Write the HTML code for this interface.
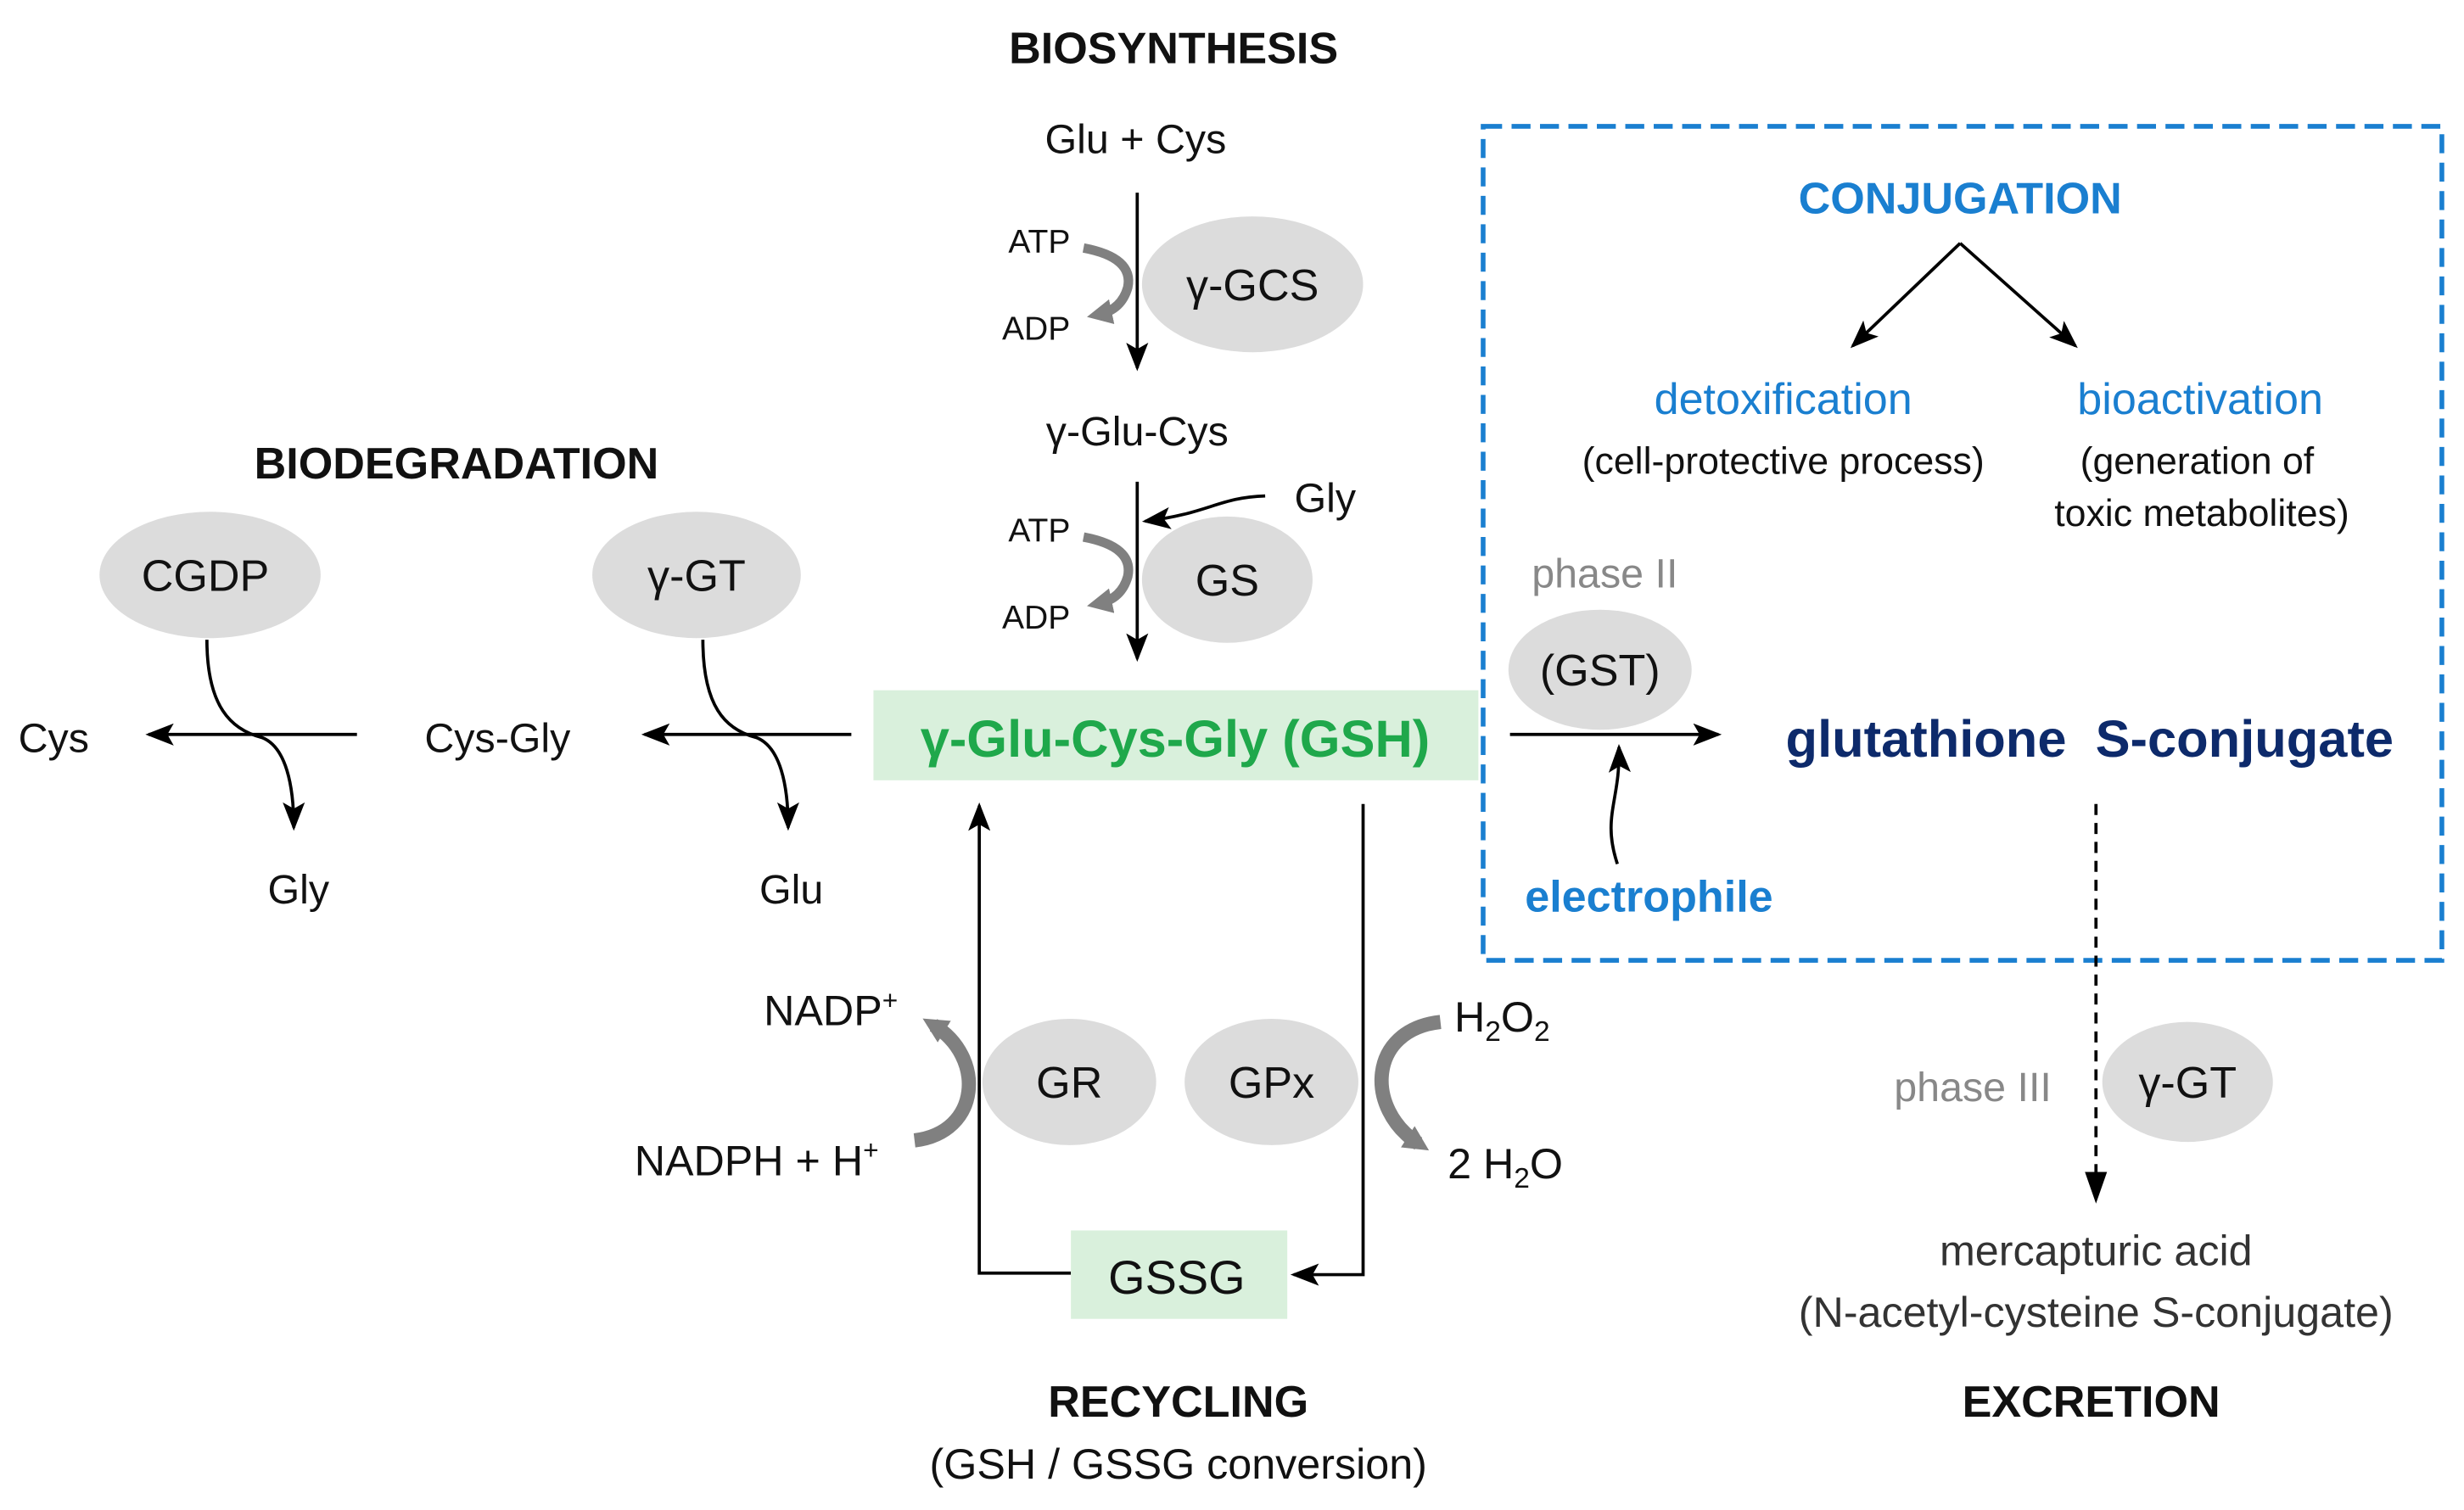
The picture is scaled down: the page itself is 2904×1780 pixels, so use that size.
<!DOCTYPE html>
<html><head><meta charset="utf-8"><style>
html,body{margin:0;padding:0;background:#fff;width:2904px;height:1780px;overflow:hidden}
svg{display:block}
text{font-family:"Liberation Sans",Arial,sans-serif}
</style></head><body>
<svg width="2904" height="1780" viewBox="0 0 1560 956" preserveAspectRatio="none" xmlns="http://www.w3.org/2000/svg">
<defs>
<marker id="ahb" markerWidth="18" markerHeight="14" refX="16" refY="7" orient="auto" markerUnits="userSpaceOnUse" viewBox="0 0 18 14">
<path d="M0,0 L18,7 L0,14 L4,7 Z" fill="#000"/></marker>
<marker id="ag" markerWidth="16" markerHeight="16" refX="8" refY="8" orient="auto" markerUnits="userSpaceOnUse" viewBox="0 0 16 16">
<path d="M0,0 L16,8 L0,16 Z" fill="#808080"/></marker>
</defs>
<g font-size="26" fill="#111" text-anchor="middle" transform="translate(-4,-3)">
<text x="747" y="43" font-weight="bold" font-size="28">BIOSYNTHESIS</text>
<text x="723" y="100">Glu + Cys</text>
<line x1="724" y1="125" x2="724" y2="236" stroke="#000" stroke-width="2" marker-end="url(#ahb)"/>
<text x="662" y="163" font-size="21">ATP</text>
<text x="660" y="218" font-size="21">ADP</text>
<path d="M690,160 Q722,166 718,185 Q714,199 700,202" fill="none" stroke="#808080" stroke-width="6" marker-end="url(#ag)"/>
<ellipse cx="797" cy="183" rx="70" ry="43" fill="#dcdcdc"/>
<text x="797" y="193" font-size="28">γ-GCS</text>
<text x="724" y="285">γ-Glu-Cys</text>
<line x1="724" y1="308" x2="724" y2="420" stroke="#000" stroke-width="2" marker-end="url(#ahb)"/>
<text x="843" y="327">Gly</text>
<path d="M805,317 C775,318 770,328 729,333" fill="none" stroke="#000" stroke-width="2" marker-end="url(#ahb)"/>
<text x="662" y="346" font-size="21">ATP</text>
<text x="660" y="401" font-size="21">ADP</text>
<path d="M690,343 Q722,349 718,368 Q714,382 700,385" fill="none" stroke="#808080" stroke-width="6" marker-end="url(#ag)"/>
<ellipse cx="781" cy="370" rx="54" ry="40" fill="#dcdcdc"/>
<text x="781" y="380" font-size="28">GS</text>
<rect x="557" y="440" width="383" height="57" fill="#d9f0dc"/>
<text x="748" y="482" font-weight="bold" font-size="33" fill="#1fa84b">γ-Glu-Cys-Gly (GSH)</text>
<text x="293" y="306" font-weight="bold" font-size="28">BIODEGRADATION</text>
<ellipse cx="137" cy="367" rx="70" ry="40" fill="#dcdcdc"/>
<text x="134" y="377" font-size="28">CGDP</text>
<ellipse cx="445" cy="367" rx="66" ry="40" fill="#dcdcdc"/>
<text x="445" y="377" font-size="28">γ-GT</text>
<line x1="543" y1="468" x2="412" y2="468" stroke="#000" stroke-width="2" marker-end="url(#ahb)"/>
<line x1="230" y1="468" x2="98" y2="468" stroke="#000" stroke-width="2" marker-end="url(#ahb)"/>
<text x="319" y="479">Cys-Gly</text>
<text x="38" y="479">Cys</text>
<path d="M135,408 C135,450 150,465 170,470 C185,476 190,500 190,527" fill="none" stroke="#000" stroke-width="2" marker-end="url(#ahb)"/>
<path d="M449,408 C449,450 463,465 483,470 C498,476 503,500 503,527" fill="none" stroke="#000" stroke-width="2" marker-end="url(#ahb)"/>
<text x="193" y="575">Gly</text>
<text x="505" y="575">Glu</text>
<rect x="943" y="83" width="607" height="528" fill="none" stroke="#1a7fd0" stroke-width="3" stroke-dasharray="12,6"/>
<text x="1245" y="138" font-weight="bold" font-size="28" fill="#1a7fd0">CONJUGATION</text>
<line x1="1245" y1="157" x2="1177" y2="222" stroke="#000" stroke-width="2" marker-end="url(#ahb)"/>
<line x1="1245" y1="157" x2="1318" y2="222" stroke="#000" stroke-width="2" marker-end="url(#ahb)"/>
<text x="1133" y="265" font-size="28" fill="#1a7fd0">detoxification</text>
<text x="1133" y="303" font-size="24">(cell-protective process)</text>
<text x="1397" y="265" font-size="28" fill="#1a7fd0">bioactivation</text>
<text x="1395" y="303" font-size="24">(generation of</text>
<text x="1398" y="336" font-size="24">toxic metabolites)</text>
<text x="1020" y="375" fill="#888">phase II</text>
<ellipse cx="1017" cy="427" rx="58" ry="38" fill="#dcdcdc"/>
<text x="1017" y="437" font-size="28">(GST)</text>
<line x1="960" y1="468" x2="1092" y2="468" stroke="#000" stroke-width="2" marker-end="url(#ahb)"/>
<text x="1327" y="482" font-weight="bold" font-size="33" fill="#0d2a6b" xml:space="preserve">glutathione  S-conjugate</text>
<path d="M1028,550 C1018,520 1030,510 1029,476" fill="none" stroke="#000" stroke-width="2" marker-end="url(#ahb)"/>
<text x="1048" y="580" font-weight="bold" font-size="28" fill="#1a7fd0">electrophile</text>
<line x1="1331" y1="512" x2="1331" y2="763" stroke="#000" stroke-width="2" stroke-dasharray="7,5"/>
<path d="M1324,745 L1331,765 L1338,745 Z" fill="#000"/>
<text x="1253" y="700" fill="#888">phase III</text>
<ellipse cx="1389" cy="688" rx="54" ry="38" fill="#dcdcdc"/>
<text x="1389" y="698" font-size="28">γ-GT</text>
<text x="1331" y="804" font-size="27" fill="#333">mercapturic acid</text>
<text x="1331" y="843" font-size="27" fill="#333">(N-acetyl-cysteine S-conjugate)</text>
<text x="1328" y="900" font-weight="bold" font-size="28">EXCRETION</text>
<polyline points="682,809 624,809 624,513" fill="none" stroke="#000" stroke-width="2" marker-end="url(#ahb)"/>
<polyline points="867,512 867,810 823,810" fill="none" stroke="#000" stroke-width="2" marker-end="url(#ahb)"/>
<rect x="682" y="782" width="137" height="56" fill="#d9f0dc"/>
<text x="749" y="822" font-size="30">GSSG</text>
<ellipse cx="681" cy="688" rx="55" ry="40" fill="#dcdcdc"/>
<text x="681" y="698" font-size="28">GR</text>
<ellipse cx="809" cy="688" rx="55" ry="40" fill="#dcdcdc"/>
<text x="809" y="698" font-size="28">GPx</text>
<path d="M583,725 C625,720 628,672 595,652" fill="none" stroke="#808080" stroke-width="9" marker-end="url(#ag)"/>
<path d="M916,650 C870,655 868,705 902,727" fill="none" stroke="#808080" stroke-width="9" marker-end="url(#ag)"/>
<text x="530" y="652" font-size="27">NADP<tspan font-size="17" dy="-10">+</tspan></text>
<text x="483" y="747" font-size="27">NADPH + H<tspan font-size="17" dy="-10">+</tspan></text>
<text x="955" y="656" font-size="27">H<tspan font-size="18" dy="6">2</tspan><tspan dy="-6">O</tspan><tspan font-size="18" dy="6">2</tspan></text>
<text x="957" y="749" font-size="27">2 H<tspan font-size="18" dy="6">2</tspan><tspan dy="-6">O</tspan></text>
<text x="750" y="900" font-weight="bold" font-size="28">RECYCLING</text>
<text x="750" y="939" font-size="27">(GSH / GSSG conversion)</text>
</g>
</svg>
</body></html>
